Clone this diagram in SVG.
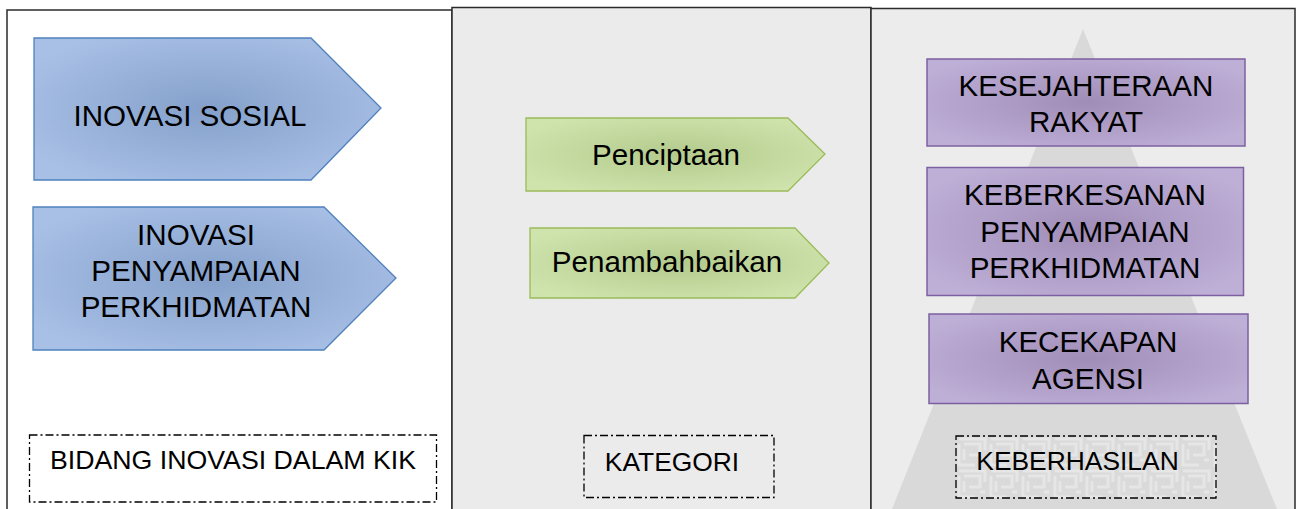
<svg xmlns="http://www.w3.org/2000/svg" width="1300" height="509" viewBox="0 0 1300 509">
<style>
.panel{stroke:#2b2b2b;stroke-width:1.5}
.t{font-family:"Liberation Sans",Arial,sans-serif;fill:#000;text-anchor:middle}
.big{font-size:29.6px}
.lab{font-size:26.4px}
.blue{fill:url(#gBlue);stroke:#4f81bd;stroke-width:1.3}
.green{fill:url(#gGreen);stroke:#9bbb59;stroke-width:1.3}
.purple{fill:url(#gPurple);stroke:#7d60a0;stroke-width:1.5}
.dash{fill:none;stroke:#000;stroke-width:1.3;stroke-dasharray:8 3 2 3}
</style>
<defs>
<radialGradient id="gBlue" cx="50%" cy="50%" r="60%">
<stop offset="0" stop-color="#84a0ca"/>
<stop offset="1" stop-color="#a9c0e6"/>
</radialGradient>
<radialGradient id="gGreen" cx="50%" cy="50%" r="60%">
<stop offset="0" stop-color="#b3ca8c"/>
<stop offset="1" stop-color="#cfe4ad"/>
</radialGradient>
<radialGradient id="gPurple" cx="50%" cy="50%" r="60%">
<stop offset="0" stop-color="#a08db7"/>
<stop offset="1" stop-color="#beafd7"/>
</radialGradient>
<pattern id="maze" x="956" y="436" width="32" height="32" patternUnits="userSpaceOnUse">
<rect width="32" height="32" fill="#dadada"/>
<path d="M3 3H29V14M8 8H24V19H13M3 8V29H19M24 24H29M8 24V13" fill="none" stroke="#e6e6e6" stroke-width="3"/>
</pattern>
</defs>

<g id="panels">
<rect class="panel" x="7" y="10" width="445" height="510" fill="#ffffff"/>
<rect class="panel" x="452" y="7.5" width="419" height="512" fill="#ebebeb"/>
<rect class="panel" x="871" y="8.5" width="424" height="512" fill="#ececec"/>
<polygon id="pyramid" points="1083,29 892,509 1277,509" fill="#d9d9d9"/>
</g>

<g id="connectors"></g>

<g id="inovasi-sosial">
<polygon class="blue" points="34,38 311,38 381,108 311,180 34,180"/>
<text class="t big" x="190" y="126">INOVASI SOSIAL</text>
</g>

<g id="inovasi-penyampaian">
<polygon class="blue" points="33,207 324,207 396,278 324,350 33,350"/>
<text class="t big" x="196" y="245">INOVASI</text>
<text class="t big" x="196" y="281">PENYAMPAIAN</text>
<text class="t big" x="196" y="317">PERKHIDMATAN</text>
</g>

<g id="penciptaan">
<polygon class="green" points="526,118 788,118 825,154 788,191 526,191"/>
<text class="t big" x="666" y="165">Penciptaan</text>
</g>

<g id="penambahbaikan">
<polygon class="green" points="530,228 795,228 829,263 795,298 530,298"/>
<text class="t big" x="667" y="272">Penambahbaikan</text>
</g>

<g id="kesejahteraan">
<rect class="purple" x="927" y="59" width="318" height="87"/>
<text class="t big" x="1086" y="96">KESEJAHTERAAN</text>
<text class="t big" x="1086" y="132">RAKYAT</text>
</g>

<g id="keberkesanan">
<rect class="purple" x="927" y="167.5" width="316.5" height="128"/>
<text class="t big" x="1085" y="205">KEBERKESANAN</text>
<text class="t big" x="1085" y="242">PENYAMPAIAN</text>
<text class="t big" x="1085" y="278">PERKHIDMATAN</text>
</g>

<g id="kecekapan">
<rect class="purple" x="929" y="314" width="319" height="89.5"/>
<text class="t big" x="1088" y="352">KECEKAPAN</text>
<text class="t big" x="1088" y="389">AGENSI</text>
</g>

<g id="label-bidang">
<rect class="dash" x="29.5" y="435" width="407" height="67"/>
<text class="t lab" x="233" y="469" textLength="366" lengthAdjust="spacingAndGlyphs">BIDANG INOVASI DALAM KIK</text>
</g>

<g id="label-kategori">
<rect class="dash" x="584" y="435.5" width="190" height="62"/>
<text class="t lab" x="672" y="471">KATEGORI</text>
</g>

<g id="label-keberhasilan">
<rect x="956" y="436" width="260" height="62" fill="url(#maze)"/>
<rect class="dash" x="956" y="436" width="260" height="62"/>
<text class="t lab" x="1077.5" y="470">KEBERHASILAN</text>
</g>
</svg>
